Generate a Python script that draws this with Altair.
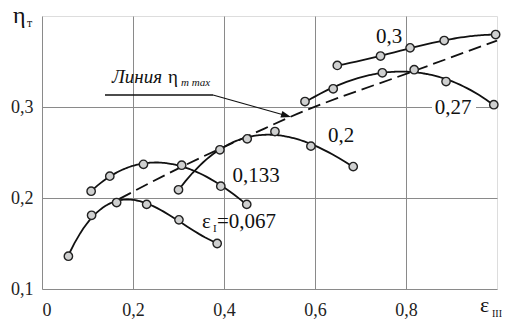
import altair as alt
import pandas as pd

# --- data ---
series_names = ["0,067", "0,133", "0,2", "0,27", "0,3"]
x067 = [0.058, 0.109, 0.164, 0.230, 0.301, 0.385]
y067 = [0.136, 0.181, 0.195, 0.193, 0.176, 0.150]
x133 = [0.108, 0.149, 0.223, 0.307, 0.393, 0.450]
y133 = [0.2075, 0.224, 0.237, 0.236, 0.213, 0.193]
x02 = [0.300, 0.391, 0.451, 0.512, 0.591, 0.684]
y02 = [0.209, 0.253, 0.265, 0.273, 0.257, 0.2345]
x027 = [0.578, 0.640, 0.748, 0.818, 0.888, 0.993]
y027 = [0.306, 0.320, 0.3376, 0.341, 0.328, 0.3025]
x03 = [0.649, 0.744, 0.809, 0.884, 0.997]
y03 = [0.3457, 0.356, 0.365, 0.373, 0.3796]

xmax_line = [0.17, 0.31, 0.47, 0.545, 0.82, 1.0]
ymax_line = [0.199, 0.235, 0.272, 0.289, 0.340, 0.373]

x_ticks = [0, 0.2, 0.4, 0.6, 0.8]
y_ticks = [0.1, 0.2, 0.3]

rows = []
for name, xs, ys in zip(series_names, [x067, x133, x02, x027, x03], [y067, y133, y02, y027, y03]):
    for a, b in zip(xs, ys):
        rows.append({"series": name, "x": a, "y": b})
pts = pd.DataFrame(rows)
dash_df = pd.DataFrame({"x": xmax_line, "y": ymax_line})

SERIF = "'Liberation Serif', 'DejaVu Serif', 'Times New Roman', serif"
W, H = 455, 273

xs = alt.X("x:Q", scale=alt.Scale(domain=[0, 1.0], nice=False, zero=False),
           axis=alt.Axis(values=x_ticks, grid=True, gridColor="#8a8a8a", gridWidth=1,
                         domain=False, ticks=False, title=None, labelPadding=12,
                         labelFont=SERIF, labelFontSize=18, labelColor="#222",
                         labelExpr="datum.value == 0 ? '0' : replace(format(datum.value, '.1f'), '.', ',')"))
ys = alt.Y("y:Q", scale=alt.Scale(domain=[0.1, 0.4], nice=False, zero=False),
           axis=alt.Axis(values=y_ticks, grid=True, gridColor="#8a8a8a", gridWidth=1,
                         domain=False, ticks=False, title=None, labelPadding=9,
                         labelFont=SERIF, labelFontSize=18, labelColor="#222",
                         labelExpr="replace(format(datum.value, '.1f'), '.', ',')"))

curves = alt.Chart(pts).transform_regression(
    "x", "y", method="poly", order=3, groupby=["series"]
).mark_line(color="#111", strokeWidth=1.8).encode(x=xs, y=ys, detail="series:N")

dashed = alt.Chart(dash_df).mark_line(color="#111", strokeWidth=1.8, strokeDash=[13, 6],
                                      interpolate="monotone").encode(x="x:Q", y="y:Q")

points = alt.Chart(pts).mark_point(filled=True, fill="#cfd0d0", stroke="#222", strokeWidth=1.4,
                                   size=70, opacity=1).encode(x="x:Q", y="y:Q")

def txt(s, x, y, size, italic=False, align="left", baseline="alphabetic"):
    return alt.Chart(dash_df.head(1)).mark_text(
        text=s, font=SERIF, fontSize=size, fontStyle="italic" if italic else "normal",
        align=align, baseline=baseline, color="#111"
    ).encode(x=alt.value(x), y=alt.value(y))

white_box = alt.Chart(dash_df.head(1)).mark_rect(color="white").encode(
    x=alt.value(390), x2=alt.value(434), y=alt.value(86), y2=alt.value(98))

labels = [
    txt("0,3", 347, 21, 21, align="center", baseline="middle"),
    txt("0,27", 411, 92, 21, align="center", baseline="middle"),
    txt("0,2", 299, 120, 21, align="center", baseline="middle"),
    txt("0,133", 214, 160, 21, align="center", baseline="middle"),
    txt("ε", 160, 212, 21),
    txt("I", 171, 216, 11),
    txt("=0,067", 175, 212, 21),
    txt("Линия", 70, 67, 19, italic=True),
    txt("η", 126, 67, 19),
    txt("т max", 139, 70, 11, italic=True),
    txt("η", -29, 7, 24),
    txt("т", -15, 11, 12),
    txt("ε", 438, 296, 22),
    txt("III", 450, 301, 10),
]

underline = alt.Chart(dash_df.head(1)).mark_rule(color="#111", strokeWidth=1.5).encode(
    x=alt.value(63), x2=alt.value(171), y=alt.value(79), y2=alt.value(79))
slant = alt.Chart(dash_df.head(1)).mark_rule(color="#111", strokeWidth=1.2).encode(
    x=alt.value(171), x2=alt.value(242), y=alt.value(79), y2=alt.value(99))
head = alt.Chart(dash_df.head(1)).mark_point(
    shape="M0,0L-1,-0.35L-1,0.35Z", filled=True, color="#111", size=400, angle=16, opacity=1
).encode(x=alt.value(249), y=alt.value(101))

chart = alt.layer(
    curves, dashed, white_box, points, *labels, underline, slant, head
).properties(
    width=W, height=H,
    autosize=alt.AutoSizeParams(type="none"),
    padding={"left": 34, "top": 8, "right": 5, "bottom": 30},
).configure_view(stroke="#555", strokeWidth=1.2).configure(background="white", font=SERIF)

chart.save("out.html", embed_options={"renderer": "svg", "actions": False})
